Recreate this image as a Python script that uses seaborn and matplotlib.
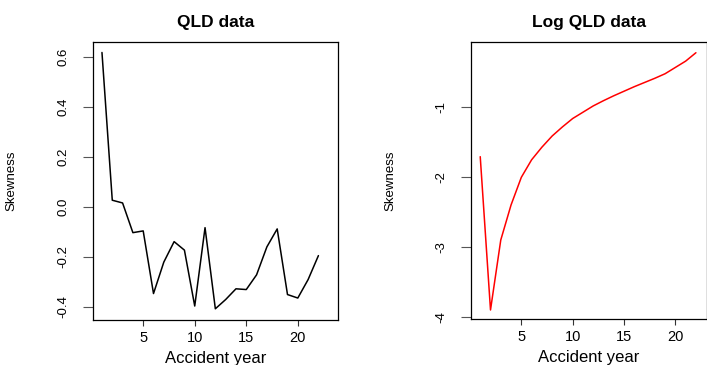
import matplotlib
matplotlib.use("Agg")
import matplotlib.pyplot as plt
import seaborn as sns
import pandas as pd

# ---- data ----
years = list(range(1, 23))
qld_skew = [0.619, 0.027, 0.016, -0.103, -0.096, -0.347, -0.221, -0.139, -0.173,
            -0.397, -0.083, -0.408, -0.371, -0.328, -0.331, -0.272, -0.160, -0.088,
            -0.351, -0.365, -0.291, -0.195]
log_qld_skew = [-1.705, -3.895, -2.895, -2.395, -2.0, -1.75, -1.57, -1.41, -1.28,
                -1.16, -1.07, -0.98, -0.905, -0.835, -0.77, -0.705, -0.645, -0.585,
                -0.52, -0.43, -0.34, -0.22]
x_ticks = [5, 10, 15, 20]
left_yticks = [-0.4, -0.2, 0.0, 0.2, 0.4, 0.6]
left_ytick_labels = ["-0.4", "-0.2", "0.0", "0.2", "0.4", "0.6"]
right_yticks = [-4, -3, -2, -1]
right_ytick_labels = ["-4", "-3", "-2", "-1"]
titles = ["QLD data", "Log QLD data"]
xlabel = "Accident year"
ylabel = "Skewness"

df1 = pd.DataFrame({"year": years, "skew": qld_skew})
df2 = pd.DataFrame({"year": years, "skew": log_qld_skew})

sns.set_theme(style="white")
plt.rcParams["font.family"] = ["Liberation Sans", "DejaVu Sans"]
plt.rcParams["text.color"] = "black"
plt.rcParams["axes.labelcolor"] = "black"

W, H = 707, 365
fig = plt.figure(figsize=(W / 100, H / 100), dpi=100)

def px_axes(x0, y0, x1, y1):
    return fig.add_axes([x0 / W, 1 - y1 / H, (x1 - x0) / W, (y1 - y0) / H])

ax1 = px_axes(93, 42, 338, 320)
ax2 = px_axes(471.3, 42.3, 706.7, 319)

sns.lineplot(data=df1, x="year", y="skew", ax=ax1, color="black", linewidth=1.1)
sns.lineplot(data=df2, x="year", y="skew", ax=ax2, color="#ff0000", linewidth=1.1)

ax1.set_xlim(0.13, 23.9)
ax1.set_ylim(-0.453, 0.661)
ax2.set_xlim(0.13, 23.05)
ax2.set_ylim(-4.024, -0.071)

for ax, yt, ytl, title in [(ax1, left_yticks, left_ytick_labels, titles[0]),
                           (ax2, right_yticks, right_ytick_labels, titles[1])]:
    ax.set_xticks(x_ticks)
    ax.set_xticklabels([str(v) for v in x_ticks])
    ax.set_yticks(yt)
    ax.set_yticklabels(ytl, rotation=90, va="center", ha="right")
    for s in ax.spines.values():
        s.set_visible(True)
        s.set_color("black")
        s.set_linewidth(0.9)
    ax.tick_params(axis="x", direction="out", length=4.3, width=0.8, color="#333333",
                   labelsize=10.5, pad=3.5, bottom=True, labelcolor="black")
    ax.tick_params(axis="y", direction="out", length=7.2, width=0.8, color="#555555",
                   labelsize=9.5, pad=10, left=True, labelcolor="black")
    ax.set_title(title, fontsize=12.5, fontweight="bold", pad=11, color="black")
    ax.set_xlabel(xlabel, fontsize=12, labelpad=4.5, color="black")
    ax.set_ylabel(ylabel, fontsize=9.5, color="black")
    ax.grid(False)

ax1.yaxis.set_label_coords(-0.309, 0.5)
ax2.yaxis.set_label_coords(-0.32, 0.5)

fig.savefig("out.png", dpi=100)
